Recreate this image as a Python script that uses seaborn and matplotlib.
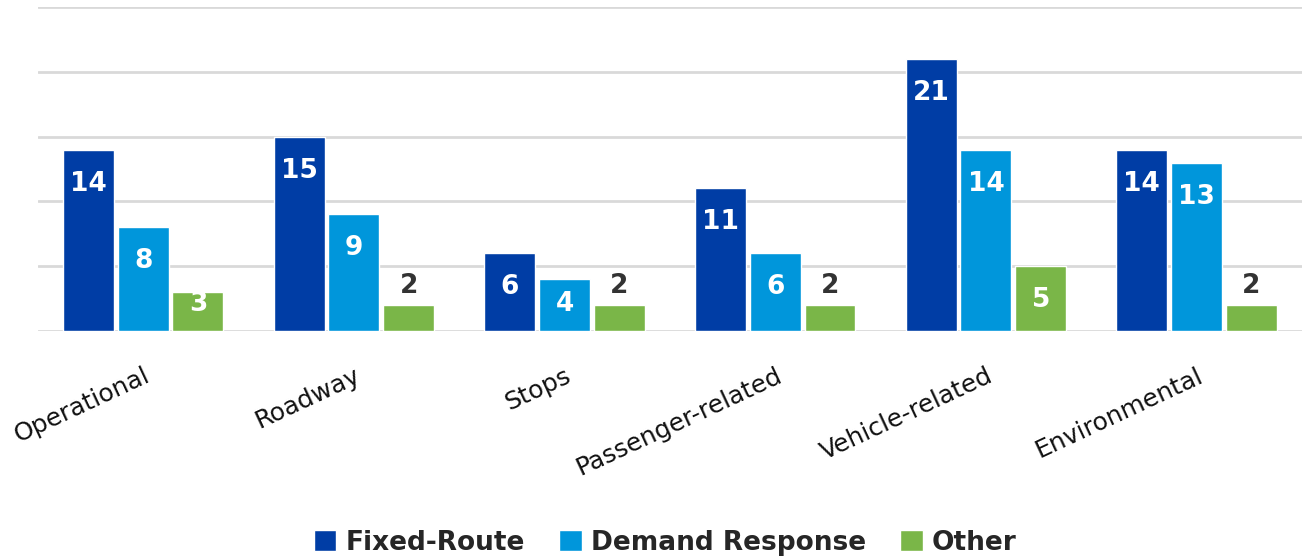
import pandas as pd
import matplotlib.pyplot as plt
import seaborn as sns
from matplotlib.patches import Patch

categories = ["Operational", "Roadway", "Stops", "Passenger-related",
              "Vehicle-related", "Environmental"]
series = ["Fixed-Route", "Demand Response", "Other"]
fixed_route = [14, 15, 6, 11, 21, 14]
demand_response = [8, 9, 4, 6, 14, 13]
other = [3, 2, 2, 2, 5, 2]
colors = ["#003DA5", "#0096DB", "#7AB648"]

df = pd.DataFrame({
    "category": categories * 3,
    "series": [s for s in series for _ in categories],
    "value": fixed_route + demand_response + other,
})

sns.set_style("white")
plt.rcParams["font.family"] = ["DejaVu Sans"]

fig = plt.figure(figsize=(13.02, 5.6), dpi=100)
ax = fig.add_axes([0.029, 0.409, 0.971, 0.5785])

sns.barplot(data=df, x="category", y="value", hue="series", order=categories,
            hue_order=series, palette=colors, width=0.78, gap=0.07,
            saturation=1, ax=ax, legend=False)

ax.set_ylim(0, 25)
ax.set_xlim(-0.5, len(categories) - 0.5)
ax.set_yticks(range(0, 26, 5))
ax.yaxis.grid(True, color="#D9D9D9", linewidth=2)
ax.set_axisbelow(True)
ax.tick_params(axis="y", left=False, labelleft=False)
ax.tick_params(axis="x", bottom=False, pad=20)
for s in ax.spines.values():
    s.set_visible(False)
ax.set_xlabel("")
ax.set_ylabel("")
plt.setp(ax.get_xticklabels(), rotation=25, ha="right", rotation_mode="anchor",
         fontsize=18, color="#111111")

# value labels: white inside the bar top, dark above the short ones
px_per_unit = ax.bbox.height / 25
for cont in ax.containers:
    for bar in cont:
        v = bar.get_height()
        xc = bar.get_x() + bar.get_width() / 2
        if v <= 2:
            ax.annotate(f"{v:.0f}", (xc, v), xytext=(0, 4), textcoords="offset points",
                        ha="center", va="bottom", fontsize=19, fontweight="bold",
                        color="#333333")
        else:
            off_px = min(34, v * px_per_unit - 27)
            ax.annotate(f"{v:.0f}", (xc, v), xytext=(0, -off_px * 0.72),
                        textcoords="offset points", ha="center", va="center",
                        fontsize=19, fontweight="bold", color="white")

handles = [Patch(facecolor=c, label=s) for s, c in zip(series, colors)]
fig.legend(handles=handles, loc="lower center", bbox_to_anchor=(0.511, -0.035),
           ncol=3, frameon=False, prop={"size": 19, "weight": "bold"},
           handlelength=0.85, handleheight=0.85, handletextpad=0.35, columnspacing=1.3)

fig.savefig("out.png", dpi=100)
